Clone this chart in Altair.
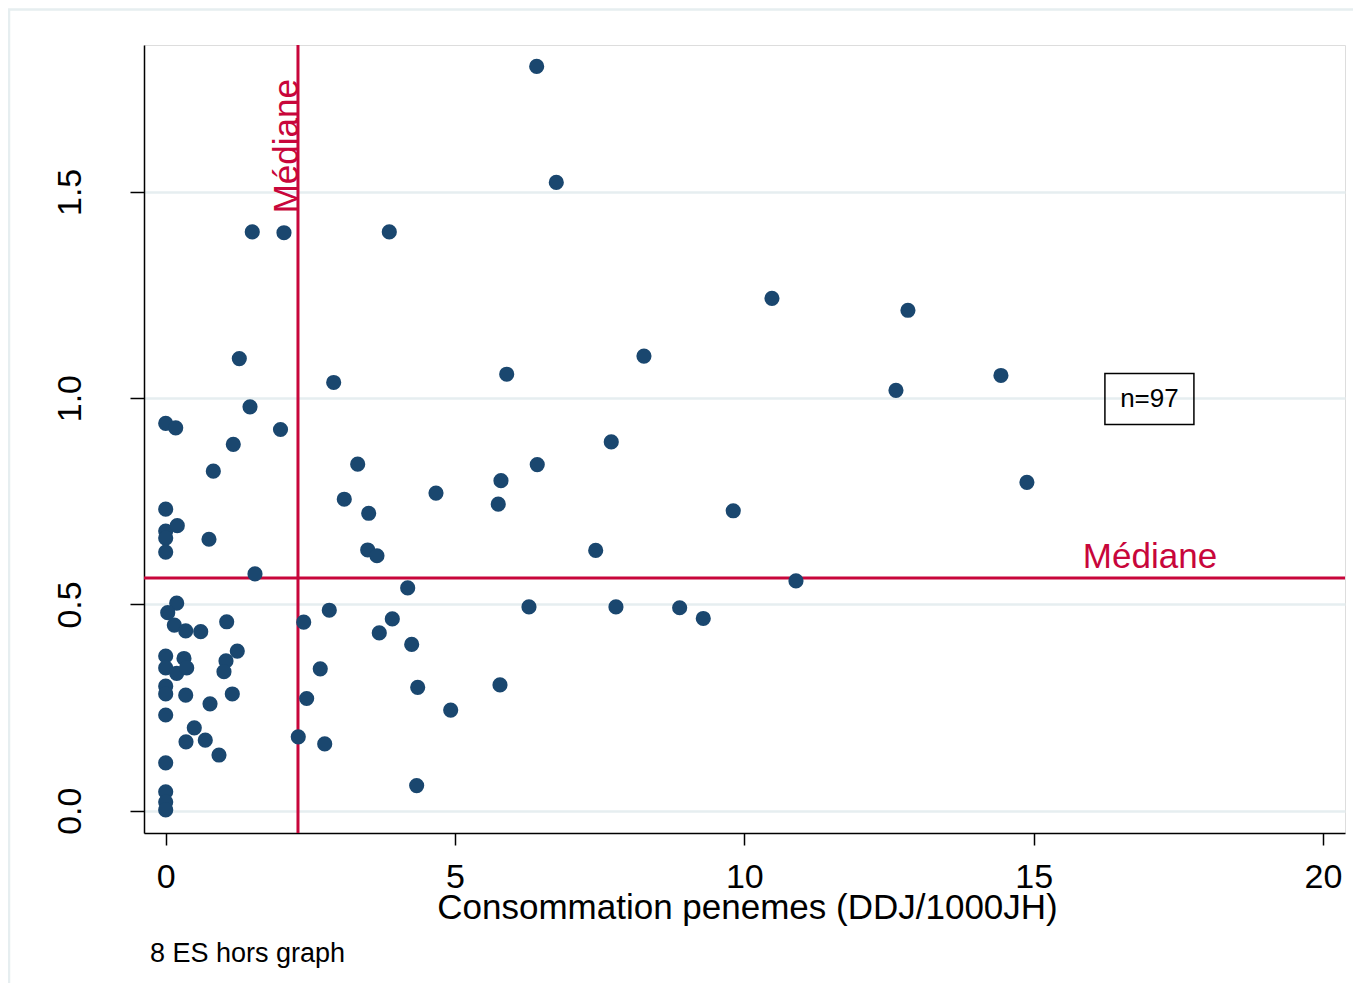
import altair as alt
import pandas as pd

# ---- data ----
x_vals = [
    0, 0, 0, 0, 0, 0, 0, 0, 0, 0, 0, 0, 0, 0,
    0.19, 0.035, 0.149, 0.346, 0.605, 1.054, 0.316, 0.19, 0.363, 1.237,
    1.042, 1.007, 0.346, 1.151, 0.766, 0.494, 0.351, 0.684, 0.921,
    0.173, 1.457, 1.168, 0.823, 0.20, 0.748, 1.543, 1.984,
    1.496, 2.044, 3.864, 1.272, 2.903,
    3.318, 3.086, 4.671, 3.508, 3.491, 3.651, 4.182, 2.827, 2.385, 3.916,
    3.691, 4.251, 2.671, 4.355, 2.436, 4.925, 2.291, 2.748, 4.337,
    6.411, 6.750, 5.893, 8.265, 7.700, 6.421, 5.794, 5.747, 9.808,
    7.431, 10.892, 7.781, 8.882, 9.290,
    6.278, 5.777, 10.477, 12.827, 12.620, 14.434, 14.883,
]
y_vals = [
    0.939, 0.731, 0.678, 0.661, 0.627, 0.375, 0.346, 0.302, 0.283, 0.232, 0.116, 0.046, 0.021, 0.002,
    0.503, 0.480, 0.450, 0.436, 0.434, 0.458, 0.369, 0.333, 0.346, 0.387,
    0.363, 0.337, 0.280, 0.283, 0.259, 0.201, 0.167, 0.171, 0.135,
    0.928, 0.979, 0.888, 0.823, 0.691, 0.658, 0.574, 0.924,
    1.403, 1.401, 1.403, 1.096, 1.038,
    0.840, 0.755, 0.770, 0.721, 0.632, 0.618, 0.540, 0.486, 0.457, 0.465,
    0.431, 0.403, 0.344, 0.299, 0.272, 0.244, 0.179, 0.162, 0.061,
    1.804, 1.523, 1.058, 1.102, 0.894, 0.839, 0.800, 0.743, 0.727,
    0.631, 0.557, 0.494, 0.492, 0.466,
    0.494, 0.305, 1.242, 1.213, 1.019, 1.055, 0.796,
]
median_x = [2.286]
median_y = [0.564]
x_ticks = [0, 5, 10, 15, 20]
y_ticks = [0, 0.5, 1.0, 1.5]
x_title = "Consommation penemes (DDJ/1000JH)"
note = ["8 ES hors graph"]
n_label = ["n=97"]
n_pos_x = [17.0]
n_pos_y = [0.998]
med_label = "Médiane"
vlabel_x = [2.286]
vlabel_y = [1.448]
hlabel_x = [15.85]
hlabel_y = [0.564]

FONT = "Liberation Sans"
NAVY = "#1a476f"
RED = "#c8063b"

pts = pd.DataFrame({"x": x_vals, "y": y_vals})

xscale = alt.Scale(domain=[-0.375, 20.38], nice=False, zero=False)
yscale = alt.Scale(domain=[-0.054, 1.856], nice=False, zero=False)

X = alt.X(
    "x:Q", scale=xscale,
    axis=alt.Axis(
        values=x_ticks, format="d", grid=False, tickSize=12, tickWidth=1.5,
        tickColor="black", domainColor="black", domainWidth=1.5,
        labelFont=FONT, labelFontSize=34, labelColor="black",
        labelBaseline="alphabetic", labelPadding=42, labelFlush=False,
        title=x_title, titleFont=FONT, titleFontSize=35, titleFontWeight="normal",
        titleColor="black", titleBaseline="alphabetic", titleY=85, titleX=603,
        titleAlign="center",
    ),
)
Y = alt.Y(
    "y:Q", scale=yscale,
    axis=alt.Axis(
        values=y_ticks, format=".1f", grid=True, gridColor="#e6eef0", gridWidth=2.5,
        tickSize=14, tickWidth=1.5, tickColor="black",
        domainColor="black", domainWidth=1.5,
        labelFont=FONT, labelFontSize=34, labelColor="black",
        labelAngle=270, labelAlign="center", labelBaseline="alphabetic",
        labelPadding=50, labelFlush=False, title=None,
    ),
)

base_one = pd.DataFrame({"a": [0]})

border = alt.Chart(base_one).mark_rect(
    fillOpacity=0, stroke="#e6eef0", strokeWidth=2.5
).encode(
    x=alt.value(-135), x2=alt.value(1400), y=alt.value(-35.5), y2=alt.value(1100)
)

vline = alt.Chart(pd.DataFrame({"x": median_x})).mark_rule(
    color=RED, strokeWidth=3
).encode(x=X)

hline = alt.Chart(pd.DataFrame({"y": median_y})).mark_rule(
    color=RED, strokeWidth=3
).encode(y=Y)

points = alt.Chart(pts).mark_circle(size=230, color=NAVY, opacity=1).encode(x=X, y=Y)

vtext = alt.Chart(pd.DataFrame({"x": vlabel_x, "y": vlabel_y, "t": [med_label]})).mark_text(
    angle=270, align="left", baseline="alphabetic", font=FONT, fontSize=35, color=RED
).encode(x=X, y=Y, text="t:N")

htext = alt.Chart(pd.DataFrame({"x": hlabel_x, "y": hlabel_y, "t": [med_label]})).mark_text(
    align="left", baseline="alphabetic", dy=-10, font=FONT, fontSize=35, color=RED
).encode(x=X, y=Y, text="t:N")

ndf = pd.DataFrame({"x": n_pos_x, "y": n_pos_y, "t": n_label})
nbox = alt.Chart(ndf).mark_point(
    shape="M-1,-0.573L1,-0.573L1,0.573L-1,0.573Z", size=7921, filled=False,
    color="black", strokeWidth=1.5, opacity=1
).encode(x=X, y=Y)
ntext = alt.Chart(ndf).mark_text(
    align="center", baseline="middle", font=FONT, fontSize=26, color="black"
).encode(x=X, y=Y, text="t:N")

notetext = alt.Chart(pd.DataFrame({"t": note})).mark_text(
    align="left", baseline="alphabetic", font=FONT, fontSize=27, color="black"
).encode(x=alt.value(6), y=alt.value(917), text="t:N")

chart = alt.layer(border, vline, hline, points, vtext, htext, nbox, ntext, notetext).properties(
    width=1201, height=788,
    padding={"left": 136, "top": 37, "right": 8, "bottom": 150},
    autosize=alt.AutoSizeParams(type="none"),
).configure_view(stroke=None).configure(background="white")

chart.save("out.html", embed_options={"renderer": "svg", "actions": False})
